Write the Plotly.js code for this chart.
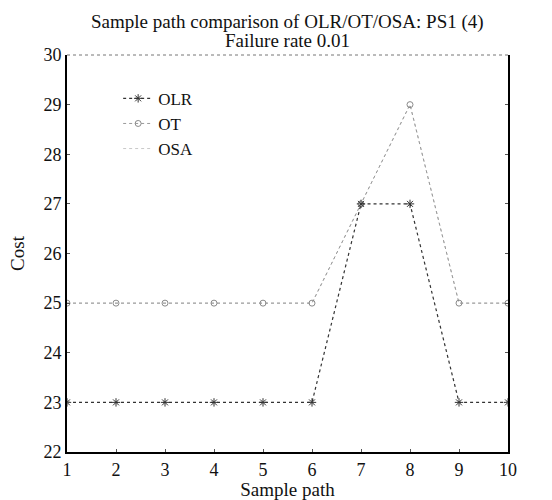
<!DOCTYPE html>
<html>
<head>
<meta charset="utf-8">
<script src="https://cdn.plot.ly/plotly-3.0.1.min.js"></script>
<style>html,body{margin:0;padding:0;background:#fff;}</style>
</head>
<body>
<div id="chart" style="width:552px;height:500px;"></div>
<script>
const samplePath = [1, 2, 3, 4, 5, 6, 7, 8, 9, 10];
const olr = [23, 23, 23, 23, 23, 23, 27, 27, 23, 23];
const ot  = [25, 25, 25, 25, 25, 25, 27, 29, 25, 25];
const osa = [25, 25, 25, 25, 25, 25, 27, 29, 25, 25];
const yTicks = [22, 23, 24, 25, 26, 27, 28, 29, 30];
const titleLines = ['Sample path comparison of OLR/OT/OSA: PS1 (4)', 'Failure rate 0.01'];

const serif = 'Liberation Serif';

const traces = [
  {
    x: samplePath, y: osa, name: 'OSA', type: 'scatter', mode: 'lines',
    line: {color: '#c8c8c8', width: 1, dash: 'dot'},
    legendrank: 3
  },
  {
    x: samplePath, y: ot, name: 'OT', type: 'scatter', mode: 'lines+markers',
    line: {color: '#9a9a9a', width: 1, dash: 'dot'},
    marker: {symbol: 'circle-open', size: 6, color: '#8a8a8a', line: {width: 1}},
    legendrank: 2
  },
  {
    x: samplePath, y: olr, name: 'OLR', type: 'scatter', mode: 'lines+markers',
    line: {color: '#333333', width: 1.2, dash: 'dot'},
    marker: {symbol: 'asterisk-open', size: 7, color: '#333333', line: {width: 1, color: '#333333'}},
    legendrank: 1
  }
];

const layout = {
  width: 552, height: 500,
  paper_bgcolor: '#fff', plot_bgcolor: '#fff',
  margin: {l: 67, r: 44, t: 55, b: 48},
  font: {family: serif, size: 18, color: '#111'},
  annotations: [
    {text: titleLines[0], xref: 'paper', yref: 'paper', x: 0.5, y: 1.083,
     xanchor: 'center', yanchor: 'middle', showarrow: false,
     font: {family: serif, size: 19, color: '#111'}},
    {text: titleLines[1], xref: 'paper', yref: 'paper', x: 0.5, y: 1.036,
     xanchor: 'center', yanchor: 'middle', showarrow: false,
     font: {family: serif, size: 19, color: '#111'}}
  ],
  shapes: [
    {type: 'line', xref: 'paper', yref: 'paper', x0: 0, x1: 1, y0: 1, y1: 1,
     line: {color: '#777', width: 1, dash: 'dot'}}
  ],
  showlegend: true,
  legend: {
    x: 0.116, y: 0.935, xanchor: 'left', yanchor: 'top',
    bgcolor: 'rgba(0,0,0,0)', borderwidth: 0,
    font: {family: serif, size: 17, color: '#111'},
    tracegroupgap: 0
  },
  xaxis: {
    range: [1, 10], tickvals: samplePath, ticktext: samplePath.map(String),
    showgrid: false, zeroline: false,
    showline: true, linecolor: '#000', linewidth: 2, mirror: false,
    ticks: 'inside', ticklen: 3, tickcolor: '#555', tickwidth: 1,
    tickfont: {family: serif, size: 18, color: '#111'},
    title: {text: 'Sample path', font: {family: serif, size: 19, color: '#111'}, standoff: 4}
  },
  yaxis: {
    range: [22, 30], tickvals: yTicks, ticktext: yTicks.map(String),
    showgrid: false, zeroline: false,
    showline: true, linecolor: '#000', linewidth: 2, mirror: 'ticks',
    ticks: 'inside', ticklen: 3, tickcolor: '#555', tickwidth: 1,
    tickfont: {family: serif, size: 18, color: '#111'},
    title: {text: 'Cost', font: {family: serif, size: 19, color: '#111'}, standoff: 14}
  }
};

Plotly.newPlot('chart', traces, layout, {displayModeBar: false, staticPlot: true});
</script>
</body>
</html>
